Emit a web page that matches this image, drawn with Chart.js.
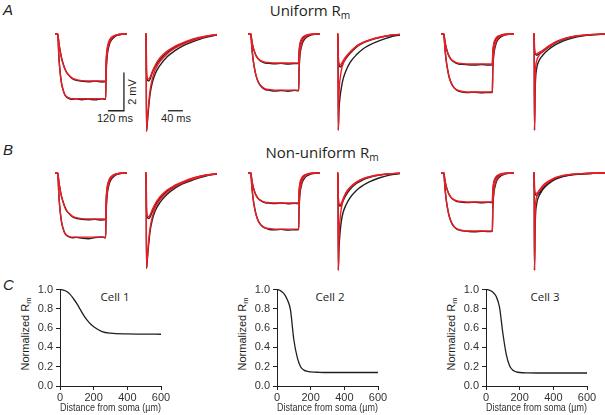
<!DOCTYPE html>
<html><head><meta charset="utf-8">
<script src="https://cdn.jsdelivr.net/npm/chart.js@4.4.0/dist/chart.umd.min.js"></script>
<style>
html,body{margin:0;padding:0;background:#fff;}
#fig{position:relative;width:605px;height:415px;overflow:hidden;background:#fff;font-family:"Liberation Sans",Arial,sans-serif;color:#231f20;}
canvas{position:absolute;}
.t{position:absolute;white-space:nowrap;line-height:1;}
.c{transform:translateX(-50%);}
.r{transform:translate(-50%,-50%) rotate(-90deg);}
.pl{font-style:italic;font-size:15px;}
.ti{font-family:"Open Sans",sans-serif;font-size:15px;}
.sm{font-size:11px;}
.cell{font-family:"Open Sans",sans-serif;font-size:11.5px;}
sub{font-size:68%;vertical-align:-0.3em;line-height:0;}
</style></head><body><div id="fig">
<div class="t pl" style="left:3px;top:2px;">A</div>
<div class="t pl" style="left:3px;top:142px;">B</div>
<div class="t pl" style="left:3px;top:277px;">C</div>
<div class="t ti c" style="left:310px;top:3px;">Uniform R<sub>m</sub></div>
<div class="t ti c" style="left:322px;top:145px;">Non-uniform R<sub>m</sub></div>
<div class="t sm r" style="left:132px;top:92px;">2 mV</div>
<div class="t sm c" style="left:115px;top:113px;">120 ms</div>
<div class="t sm c" style="left:176px;top:113px;">40 ms</div>
<div class="t cell c" style="left:115px;top:291px;">Cell 1</div>
<div class="t cell c" style="left:330px;top:291px;">Cell 2</div>
<div class="t cell c" style="left:545px;top:291px;">Cell 3</div>
<div class="t sm r" style="left:25px;top:334px;">Normalized R<sub>m</sub></div>
<div class="t sm r" style="left:242px;top:334px;">Normalized R<sub>m</sub></div>
<div class="t sm r" style="left:451px;top:334px;">Normalized R<sub>m</sub></div>
</div>
<script>
// ---------- data: voltage deflections (mV, downward positive) ----------
const tLong = [0,15,20,30,40,50,60,75,90,110,130,160,200,250,300,350,380,383,388,393,400,410,425,445,470,500,540];
const tShort = [0,3,4,6,10,14,19,27,40,59,80,100,130,160,192];

const aC1LongRedUp = [0,0,0,0.54,0.96,1.31,1.56,1.85,2.05,2.20,2.32,2.40,2.45,2.47,2.47,2.47,2.47,1.48,0.94,0.67,0.47,0.30,0.17,0.09,0.04,0.01,0];
const aC1LongBlkUp = [0,0,0,0.52,0.93,1.28,1.54,1.84,2.06,2.22,2.35,2.44,2.48,2.51,2.48,2.52,2.50,1.63,1.08,0.78,0.58,0.38,0.23,0.13,0.05,0.03,0];
const aC1LongRedLo = [0,0,0,1.33,2.14,2.65,2.92,3.20,3.30,3.37,3.40,3.40,3.40,3.40,3.40,3.40,3.40,2.04,1.29,0.92,0.65,0.41,0.24,0.12,0.05,0.02,0];
const aC1LongBlkLo = [0,0,0,1.30,2.10,2.62,2.92,3.22,3.33,3.40,3.43,3.41,3.45,3.42,3.46,3.40,3.43,2.23,1.47,1.06,0.79,0.51,0.31,0.17,0.07,0.03,0];
const aC2LongRedUp = [0,0,0,0.43,0.75,0.96,1.13,1.29,1.38,1.45,1.49,1.51,1.53,1.53,1.53,1.53,1.53,0.92,0.58,0.41,0.29,0.18,0.11,0.05,0.02,0.01,0];
const aC2LongBlkUp = [0,0,0,0.42,0.74,0.97,1.14,1.30,1.41,1.48,1.53,1.55,1.57,1.55,1.58,1.56,1.56,1.01,0.67,0.48,0.36,0.23,0.14,0.08,0.03,0.02,0];
const aC2LongRedLo = [0,0,0,0.83,1.45,1.86,2.18,2.48,2.66,2.80,2.88,2.92,2.95,2.95,2.95,2.95,2.95,1.77,1.12,0.80,0.56,0.35,0.21,0.10,0.04,0.01,0];
const aC2LongBlkLo = [0,0,0,0.80,1.42,1.85,2.18,2.50,2.68,2.83,2.92,2.96,3.00,2.97,3.01,2.96,2.99,1.94,1.28,0.93,0.69,0.45,0.27,0.15,0.06,0.03,0];
const aC3LongRedUp = [0,0,0,0.44,0.77,1.00,1.17,1.33,1.42,1.50,1.54,1.56,1.58,1.58,1.58,1.58,1.58,0.95,0.60,0.43,0.30,0.19,0.11,0.06,0.02,0.01,0];
const aC3LongBlkUp = [0,0,0,0.43,0.76,1.00,1.18,1.35,1.45,1.53,1.58,1.60,1.62,1.63,1.61,1.63,1.62,1.05,0.70,0.50,0.37,0.24,0.15,0.08,0.03,0.02,0];
const aC3LongRedLo = [0,0,0,0.85,1.49,1.92,2.26,2.56,2.75,2.90,2.97,3.02,3.05,3.05,3.05,3.05,3.05,1.83,1.16,0.82,0.58,0.37,0.21,0.11,0.05,0.02,0];
const aC3LongBlkLo = [0,0,0,0.83,1.47,1.91,2.26,2.57,2.77,2.92,3.00,3.05,3.08,3.06,3.09,3.07,3.08,2.00,1.32,0.95,0.71,0.46,0.28,0.15,0.06,0.03,0];

const bC1LongRedUp = [0,0,0,0.53,0.94,1.28,1.52,1.82,2.01,2.15,2.27,2.35,2.40,2.42,2.42,2.42,2.42,1.45,0.92,0.65,0.46,0.29,0.17,0.08,0.04,0.01,0];
const bC1LongBlkUp = [0,0,0,0.51,0.92,1.26,1.50,1.81,2.02,2.17,2.30,2.39,2.44,2.46,2.44,2.47,2.45,1.59,1.05,0.76,0.56,0.37,0.22,0.12,0.05,0.02,0];
const bC1LongRedLo = [0,0,0,1.31,2.12,2.63,2.90,3.17,3.27,3.34,3.37,3.37,3.37,3.37,3.37,3.37,3.37,2.02,1.28,0.91,0.64,0.40,0.24,0.12,0.05,0.02,0];
const bC1LongBlkLo = [0,0,0,1.28,2.08,2.60,2.90,3.19,3.30,3.37,3.40,3.38,3.42,3.45,3.39,3.36,3.41,2.21,1.46,1.05,0.78,0.51,0.31,0.17,0.07,0.03,0];
const bC2LongRedUp = [0,0,0,0.44,0.77,1.00,1.17,1.33,1.42,1.50,1.54,1.56,1.58,1.58,1.58,1.58,1.58,0.95,0.60,0.43,0.30,0.19,0.11,0.06,0.02,0.01,0];
const bC2LongBlkUp = [0,0,0,0.43,0.76,0.99,1.17,1.34,1.44,1.52,1.57,1.59,1.61,1.58,1.62,1.60,1.61,1.04,0.69,0.50,0.37,0.24,0.14,0.08,0.03,0.02,0];
const bC2LongRedLo = [0,0,0,0.83,1.45,1.86,2.18,2.48,2.66,2.80,2.88,2.92,2.95,2.95,2.95,2.95,2.95,1.77,1.12,0.80,0.56,0.35,0.21,0.10,0.04,0.01,0];
const bC2LongBlkLo = [0,0,0,0.81,1.43,1.85,2.17,2.49,2.67,2.82,2.90,2.97,2.99,2.96,3.00,2.98,2.97,1.93,1.27,0.92,0.68,0.44,0.27,0.15,0.06,0.03,0];
const bC3LongRedUp = [0,0,0,0.43,0.75,0.96,1.13,1.29,1.38,1.45,1.49,1.51,1.53,1.53,1.53,1.53,1.53,0.92,0.58,0.41,0.29,0.18,0.11,0.05,0.02,0.01,0];
const bC3LongBlkUp = [0,0,0,0.42,0.74,0.96,1.13,1.30,1.40,1.48,1.52,1.55,1.56,1.54,1.57,1.55,1.56,1.00,0.66,0.48,0.35,0.23,0.14,0.08,0.03,0.02,0];
const bC3LongRedLo = [0,0,0,0.85,1.49,1.92,2.26,2.56,2.75,2.90,2.97,3.02,3.05,3.05,3.05,3.05,3.05,1.83,1.16,0.82,0.58,0.37,0.21,0.11,0.05,0.02,0];
const bC3LongBlkLo = [0,0,0,0.84,1.48,1.92,2.25,2.57,2.76,2.91,2.99,3.04,3.07,3.09,3.06,3.08,3.07,2.00,1.32,0.95,0.71,0.46,0.28,0.15,0.06,0.03,0];

const aC1ShortRedDeep = [0,0,5.10,4.60,3.60,2.90,2.40,1.90,1.45,1.05,0.75,0.55,0.33,0.16,0.05];
const aC1ShortRedShal = [0,0,1.90,2.30,2.37,2.25,2.00,1.65,1.25,0.90,0.65,0.47,0.25,0.12,0.03];
const aC1ShortBlkDeep = [0,0,5.10,4.70,3.80,3.10,2.60,2.10,1.65,1.20,0.88,0.64,0.40,0.20,0.07];
const aC1ShortBlkShal = [0,0,1.90,2.40,2.47,2.35,2.05,1.72,1.35,0.98,0.70,0.52,0.30,0.15,0.04];
const aC2ShortRedDeep = [0,0,5.05,3.20,2.30,1.85,1.55,1.25,0.95,0.65,0.45,0.32,0.18,0.08,0.03];
const aC2ShortRedShal = [0,0,1.20,1.55,1.63,1.55,1.40,1.20,0.95,0.65,0.45,0.32,0.18,0.08,0.03];
const aC2ShortBlkDeep = [0,0,5.05,4.00,3.20,2.75,2.35,1.95,1.50,1.10,0.78,0.58,0.36,0.18,0.06];
const aC2ShortBlkShal = [0,0,1.20,1.60,1.74,1.68,1.52,1.30,1.02,0.70,0.48,0.34,0.20,0.09,0.03];
const aC3ShortRedDeep = [0,0,5.05,2.20,1.40,1.20,1.05,0.90,0.70,0.45,0.28,0.17,0.08,0.03,0.01];
const aC3ShortRedShal = [0,0,0.80,1.00,1.05,1.00,0.95,0.85,0.66,0.43,0.27,0.16,0.08,0.03,0.01];
const aC3ShortBlkDeep = [0,0,5.05,2.80,1.80,1.50,1.30,1.10,0.85,0.58,0.38,0.25,0.12,0.05,0.02];
const aC3ShortBlkShal = [0,0,0.80,1.05,1.12,1.08,1.02,0.92,0.72,0.48,0.30,0.18,0.09,0.04,0.01];

const bC1ShortRedDeep = [0,0,5.00,4.50,3.50,2.85,2.35,1.85,1.42,1.02,0.73,0.53,0.32,0.15,0.05];
const bC1ShortRedShal = [0,0,1.85,2.25,2.30,2.18,1.95,1.62,1.25,0.90,0.65,0.47,0.26,0.12,0.03];
const bC1ShortBlkDeep = [0,0,5.00,4.60,3.70,3.00,2.50,2.00,1.55,1.12,0.80,0.58,0.36,0.18,0.06];
const bC1ShortBlkShal = [0,0,1.85,2.30,2.40,2.30,2.05,1.70,1.32,0.95,0.68,0.50,0.28,0.13,0.04];
const bC2ShortRedDeep = [0,0,5.10,3.40,2.30,1.80,1.40,1.05,0.75,0.48,0.30,0.20,0.10,0.05,0.02];
const bC2ShortRedShal = [0,0,1.30,1.60,1.68,1.55,1.35,1.08,0.78,0.50,0.31,0.20,0.10,0.05,0.02];
const bC2ShortBlkDeep = [0,0,5.10,4.00,3.00,2.45,2.05,1.70,1.30,0.92,0.65,0.46,0.26,0.12,0.04];
const bC2ShortBlkShal = [0,0,1.30,1.65,1.75,1.65,1.45,1.18,0.86,0.56,0.36,0.23,0.12,0.06,0.02];
const bC3ShortRedDeep = [0,0,5.10,2.00,1.25,1.00,0.85,0.65,0.45,0.25,0.14,0.08,0.04,0.02,0.01];
const bC3ShortRedShal = [0,0,0.85,1.05,1.07,1.00,0.90,0.72,0.50,0.28,0.15,0.09,0.04,0.02,0.01];
const bC3ShortBlkDeep = [0,0,5.10,2.60,1.60,1.30,1.10,0.85,0.60,0.35,0.20,0.12,0.06,0.03,0.01];
const bC3ShortBlkShal = [0,0,0.85,1.10,1.20,1.12,1.00,0.80,0.56,0.32,0.18,0.10,0.05,0.02,0.01];

// scale bars
const scaleBarMs = 120, scaleBarMv = 2, shortBarMs = 40;

// panel C: normalized Rm vs distance (µm)
const distC = [0,20,40,60,80,100,120,140,160,180,200,250,300,400,500,600];
const rmCell1 = [1.0,0.995,0.98,0.95,0.905,0.855,0.795,0.735,0.685,0.645,0.615,0.565,0.548,0.54,0.538,0.537];
const rmCell2 = [1.0,0.99,0.96,0.90,0.79,0.48,0.30,0.20,0.165,0.152,0.147,0.142,0.14,0.14,0.14,0.14];
const rmCell3 = [1.0,0.995,0.975,0.93,0.82,0.55,0.33,0.21,0.163,0.147,0.14,0.136,0.135,0.135,0.135,0.135];
const rmTicksY = [0,0.2,0.4,0.6,0.8,1.0];
const rmTicksX = [0,200,400,600];

// ---------- drawing ----------
const INK = '#231f20', RED = '#ed1c24';
const fig = document.getElementById('fig');
const TRACE_H = 105;
function mk(left, top, w, h){
  const c = document.createElement('canvas');
  c.width = w; c.height = h;
  c.style.left = left + 'px'; c.style.top = top + 'px';
  c.style.width = w + 'px'; c.style.height = h + 'px';
  fig.appendChild(c); return c;
}
function pts(xs, ys){ return xs.map((x,i)=>({x:x, y:ys[i]})); }
function trace(left, top, width, xs, tMax, sets, extra){
  const ds = sets.map(s=>({data: pts(xs, s[1]), borderColor: s[0], borderWidth: 1.4, pointRadius: 0,
    fill: false, cubicInterpolationMode: 'monotone', order: s[0] === RED ? 0 : 1, clip: 6}));
  return new Chart(mk(left, top, width, TRACE_H), {
    type: 'line', data: {datasets: ds},
    options: {responsive: false, animation: false, events: [], layout: {padding: 0},
      plugins: {legend: {display: false}, tooltip: {enabled: false}},
      scales: {x: {type: 'linear', min: 0, max: tMax, display: false},
               y: {type: 'linear', min: -0.2, max: 5.3, reverse: true, display: false}}},
    plugins: extra || []
  });
}
const barLong = {id: 'barLong', afterDatasetsDraw(c){
  const x = c.scales.x, y = c.scales.y, ctx = c.ctx;
  const tEnd = 517, vBase = 4.03;
  ctx.save(); ctx.strokeStyle = INK; ctx.lineWidth = 1.3; ctx.beginPath();
  ctx.moveTo(x.getPixelForValue(tEnd - scaleBarMs), y.getPixelForValue(vBase));
  ctx.lineTo(x.getPixelForValue(tEnd), y.getPixelForValue(vBase));
  ctx.lineTo(x.getPixelForValue(tEnd), y.getPixelForValue(vBase - scaleBarMv));
  ctx.stroke(); ctx.restore();
}};
const barShort = {id: 'barShort', afterDatasetsDraw(c){
  const x = c.scales.x, y = c.scales.y, ctx = c.ctx;
  const t0 = 61, vBase = 4.03;
  ctx.save(); ctx.strokeStyle = INK; ctx.lineWidth = 1.3; ctx.beginPath();
  ctx.moveTo(x.getPixelForValue(t0), y.getPixelForValue(vBase));
  ctx.lineTo(x.getPixelForValue(t0 + shortBarMs), y.getPixelForValue(vBase));
  ctx.stroke(); ctx.restore();
}};

const rowTop = [30, 169];
const longX = [[55,72],[248,72],[441,73]];
const shortX = [[145,72],[337,63],[533,72]];
const longSets = [
  [[INK,aC1LongBlkUp],[INK,aC1LongBlkLo],[RED,aC1LongRedUp],[RED,aC1LongRedLo]],
  [[INK,aC2LongBlkUp],[INK,aC2LongBlkLo],[RED,aC2LongRedUp],[RED,aC2LongRedLo]],
  [[INK,aC3LongBlkUp],[INK,aC3LongBlkLo],[RED,aC3LongRedUp],[RED,aC3LongRedLo]],
  [[INK,bC1LongBlkUp],[INK,bC1LongBlkLo],[RED,bC1LongRedUp],[RED,bC1LongRedLo]],
  [[INK,bC2LongBlkUp],[INK,bC2LongBlkLo],[RED,bC2LongRedUp],[RED,bC2LongRedLo]],
  [[INK,bC3LongBlkUp],[INK,bC3LongBlkLo],[RED,bC3LongRedUp],[RED,bC3LongRedLo]]
];
const shortSets = [
  [[INK,aC1ShortBlkDeep],[INK,aC1ShortBlkShal],[RED,aC1ShortRedDeep],[RED,aC1ShortRedShal]],
  [[INK,aC2ShortBlkDeep],[INK,aC2ShortBlkShal],[RED,aC2ShortRedDeep],[RED,aC2ShortRedShal]],
  [[INK,aC3ShortBlkDeep],[INK,aC3ShortBlkShal],[RED,aC3ShortRedDeep],[RED,aC3ShortRedShal]],
  [[INK,bC1ShortBlkDeep],[INK,bC1ShortBlkShal],[RED,bC1ShortRedDeep],[RED,bC1ShortRedShal]],
  [[INK,bC2ShortBlkDeep],[INK,bC2ShortBlkShal],[RED,bC2ShortRedDeep],[RED,bC2ShortRedShal]],
  [[INK,bC3ShortBlkDeep],[INK,bC3ShortBlkShal],[RED,bC3ShortRedDeep],[RED,bC3ShortRedShal]]
];
for (let r = 0; r < 2; r++){
  for (let k = 0; k < 3; k++){
    const i = r*3 + k;
    trace(longX[k][0], rowTop[r], longX[k][1], tLong, 540, longSets[i], (i === 0) ? [barLong] : []);
    trace(shortX[k][0], rowTop[r], shortX[k][1], tShort, 192, shortSets[i], (i === 0) ? [barShort] : []);
  }
}

const tickFont = {family: '"Liberation Sans", Arial, sans-serif', size: 11};
function rmChart(left, ys){
  return new Chart(mk(left, 280, 143, 135), {
    type: 'line',
    data: {datasets: [{data: pts(distC, ys), borderColor: INK, borderWidth: 1.3, pointRadius: 0,
      cubicInterpolationMode: 'monotone', clip: 4}]},
    options: {responsive: false, animation: false, events: [],
      layout: {padding: {top: 6, right: 12, left: 0, bottom: 0}},
      plugins: {legend: {display: false}, tooltip: {enabled: false}},
      scales: {
        x: {type: 'linear', min: 0, max: 600, afterFit: s => { s.height = 29; },
          afterBuildTicks: s => { s.ticks = rmTicksX.map(v => ({value: v})); },
          ticks: {font: tickFont, color: '#333', padding: 1, maxRotation: 0, autoSkip: false},
          grid: {display: true, drawOnChartArea: false, drawTicks: true, tickLength: 4, color: INK, lineWidth: 1},
          border: {display: true, color: INK, width: 1},
          title: {display: true, text: 'Distance from soma (µm)', font: tickFont, color: '#333', padding: 0}},
        y: {type: 'linear', min: 0, max: 1, afterFit: s => { s.width = 30; },
          afterBuildTicks: s => { s.ticks = rmTicksY.map(v => ({value: v})); },
          ticks: {font: tickFont, color: '#333', padding: 3, autoSkip: false, callback: v => v.toFixed(1)},
          grid: {display: true, drawOnChartArea: false, drawTicks: true, tickLength: 4, color: INK, lineWidth: 1},
          border: {display: true, color: INK, width: 1}}
      }}
  });
}
rmChart(30, rmCell1);
rmChart(247, rmCell2);
rmChart(456, rmCell3);
</script>
</body></html>
